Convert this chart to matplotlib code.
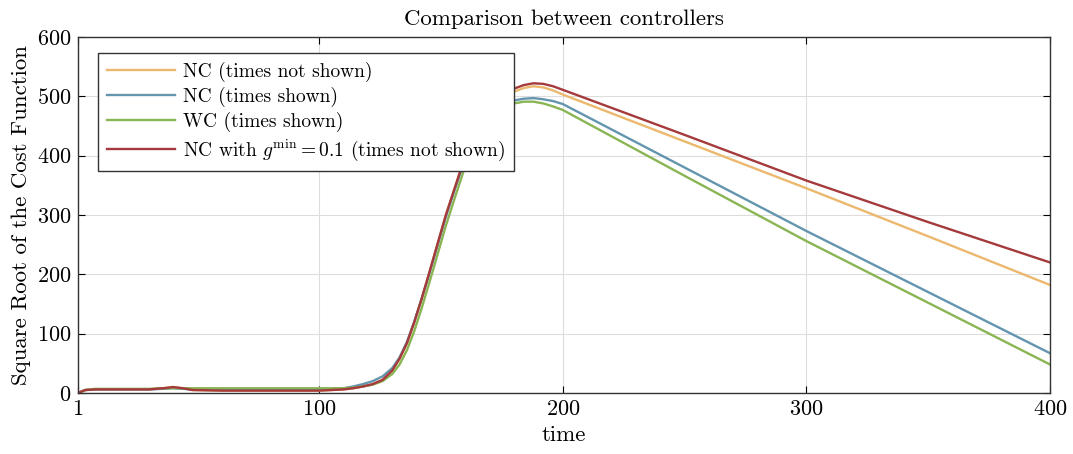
import matplotlib
matplotlib.use("Agg")
import matplotlib.pyplot as plt
import numpy as np

plt.rcParams['font.family'] = 'cmr10'
plt.rcParams['mathtext.fontset'] = 'cm'
plt.rcParams['axes.formatter.use_mathtext'] = True
plt.rcParams['font.size'] = 14

# common time grid for all four runs
t = [1, 4, 8, 30, 36, 40, 44, 48, 60, 100, 110, 114, 118, 122, 126, 130, 133, 136, 139, 142,
     145, 148, 152, 156, 160, 164, 168, 172, 176, 180, 184, 188, 192, 196, 200, 250, 300, 350, 400]

cost_nc_hidden = [0, 5, 6, 6, 8, 10, 8, 5, 4, 4, 6, 8, 11, 15, 22, 38, 58, 84, 119, 158,
                  200, 243, 300, 350, 400, 440, 466, 487, 500, 508, 514, 517, 515, 510, 503, 424, 345, 264, 182]
cost_nc_shown = [0, 5, 6, 6, 7, 8, 7, 6, 6, 6, 8, 11, 15, 20, 28, 42, 60, 86, 120, 158,
                 198, 240, 297, 347, 395, 433, 459, 476, 487, 493, 496, 497, 495, 492, 487, 380, 273, 170, 67]
cost_wc = [0, 5, 7, 7, 8, 8, 8, 8, 8, 8, 8, 9, 11, 14, 20, 32, 48, 72, 104, 142,
           183, 225, 282, 333, 383, 423, 451, 470, 482, 488, 491, 491, 488, 483, 477, 366, 256, 152, 48]
cost_gmin = [0, 5, 6, 6, 8, 10, 8, 5, 4, 4, 6, 8, 11, 15, 22, 38, 58, 84, 119, 158,
             200, 243, 300, 350, 400, 440, 468, 490, 504, 513, 519, 522, 521, 517, 511, 435, 358, 288, 220]

labels = ["NC (times not shown)", "NC (times shown)", "WC (times shown)",
          r"NC with $g^{\mathrm{min}} = 0.1$ (times not shown)"]
colors = ["#ECB86E", "#6495AE", "#8AB554", "#A43A3C"]

fig = plt.figure(figsize=(10.73, 4.54), dpi=100)
ax = fig.add_axes([0.0727, 0.1344, 0.9059, 0.7841])

for y, c, lab in zip([cost_nc_hidden, cost_nc_shown, cost_wc, cost_gmin], colors, labels):
    ax.plot(t, y, color=c, lw=1.7, label=lab)

ax.set_xlim(1, 400)
ax.set_ylim(0, 600)
ax.set_xticks([1, 100, 200, 300, 400])
ax.set_yticks(range(0, 601, 100))
ax.tick_params(direction='in', top=True, right=True, length=5, width=0.8, labelsize=16, pad=5)
ax.grid(True, color='#dddddd', lw=0.8)
for s in ax.spines.values():
    s.set_color('#333333')
    s.set_linewidth(1.0)

ax.set_xlabel("time", fontsize=16.5, labelpad=4)
ax.set_ylabel("Square Root of the Cost Function", fontsize=16.5)
ax.set_title("Comparison between controllers", fontsize=16.5, pad=9)

lgnd = ax.legend(loc='upper left', bbox_to_anchor=(0.021, 0.955), fancybox=False,
                 framealpha=1, edgecolor='#333333', fontsize=14, handlelength=3.5,
                 borderpad=0.45, labelspacing=0.26, handletextpad=0.4, borderaxespad=0)
lgnd.get_frame().set_linewidth(1.0)

fig.savefig("out.png", dpi=100)
